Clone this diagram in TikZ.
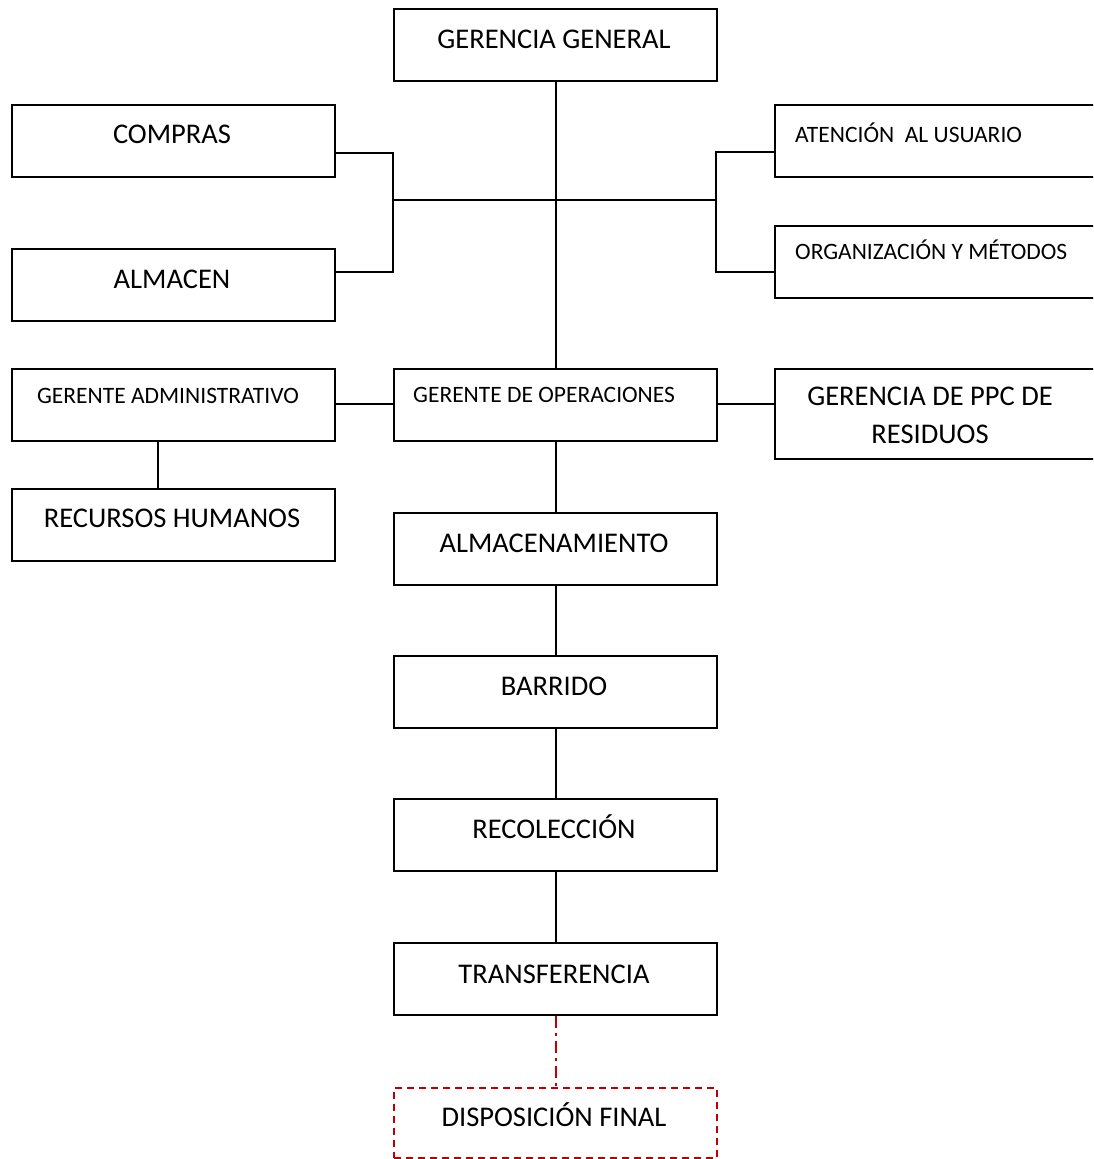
\documentclass[tikz,border=0pt]{standalone}
\usepackage{fontspec}
\setmainfont{Carlito}
\definecolor{dispred}{RGB}{192,0,0}
\begin{document}
\begin{tikzpicture}[x=1pt,y=-1pt,
  box/.style={draw=black,line width=2pt,rectangle,anchor=north west,inner sep=0pt},
  wide/.style={box,minimum width=323pt,minimum height=72pt},
  openbox/.style={box,minimum width=360pt,minimum height=72pt},
  dispbox/.style={wide,draw=dispred,dashed,dash pattern=on 7pt off 5pt},
  big/.style={font=\fontsize{28.5}{34}\selectfont,inner sep=0pt,anchor=base},
  small/.style={font=\fontsize{23.5}{28}\selectfont,inner sep=0pt,anchor=base},
  link/.style={draw=black,line width=2pt},
  dlink/.style={draw=dispred,line width=2pt,dash pattern=on 12pt off 5pt on 3pt off 5pt}]
\useasboundingbox (0,0) rectangle (1093,1159);
\clip (0,0) rectangle (1093,1159);

% boxes
\node[wide] (gg)   at (393,8)   {};
\node[wide] (comp) at (11,104)  {};
\node[wide] (alm)  at (11,248)  {};
\node[openbox] (aten) at (774,104) {};
\node[openbox] (org)  at (774,225) {};
\node[wide] (gadm) at (11,368)  {};
\node[wide] (gop)  at (393,368) {};
\node[openbox,minimum height=90pt] (ppc) at (774,368) {};
\node[wide] (rrhh) at (11,488)  {};
\node[wide] (almc) at (393,512) {};
\node[wide] (barr) at (393,655) {};
\node[wide] (reco) at (393,798) {};
\node[wide] (tran) at (393,942) {};
\node[dispbox,minimum height=70pt] (disp) at (393,1087) {};

% labels
\node[big]   (tgg)   at (554,48)   {GERENCIA GENERAL};
\node[big]   (tcomp) at (172,143)  {COMPRAS};
\node[big]   (talm)  at (172,288)  {ALMACEN};
\node[small,anchor=base west] (taten) at (795,142) {ATENCIÓN\ \ AL USUARIO};
\node[small,anchor=base west] (torg)  at (795,259) {ORGANIZACIÓN Y MÉTODOS};
\node[small] (tgadm) at (168,403)  {GERENTE ADMINISTRATIVO};
\node[small,anchor=base west] (tgop) at (413,402) {GERENTE DE OPERACIONES};
\node[big]   (tppc1) at (930,405)  {GERENCIA DE PPC DE};
\node[big]   (tppc2) at (930,443)  {RESIDUOS};
\node[big]   (trrhh) at (172,527)  {RECURSOS HUMANOS};
\node[big]   (talmc) at (554,552)  {ALMACENAMIENTO};
\node[big]   (tbarr) at (554,695)  {BARRIDO};
\node[big]   (treco) at (554,838)  {RECOLECCIÓN};
\node[big]   (ttran) at (554,983)  {TRANSFERENCIA};
\node[big]   (tdisp) at (554,1126) {DISPOSICIÓN FINAL};

% junction points
\coordinate (jl) at (393,200);
\coordinate (jr) at (716,200);
\coordinate (jlt) at (393,153);
\coordinate (jlb) at (393,272);
\coordinate (jrt) at (716,152);
\coordinate (jrb) at (716,272);

% connectors
\draw[link] (gg.south) -- (gop.north);
\draw[link] (jl) -- (jr);
\draw[link] (comp.east |- jlt) -- (jlt) -- (jlb) -- (alm.east |- jlb);
\draw[link] (aten.west |- jrt) -- (jrt) -- (jrb) -- (org.west |- jrb);
\draw[link] (gadm.east |- 0,404) -- (gop.west |- 0,404);
\draw[link] (gop.east |- 0,404) -- (ppc.west |- 0,404);
\draw[link] (gadm.south -| 158,0) -- (rrhh.north -| 158,0);
\draw[link] (gop.south) -- (almc.north);
\draw[link] (almc.south) -- (barr.north);
\draw[link] (barr.south) -- (reco.north);
\draw[link] (reco.south) -- (tran.north);
\draw[dlink] (tran.south) -- (disp.north);
\end{tikzpicture}
\end{document}
